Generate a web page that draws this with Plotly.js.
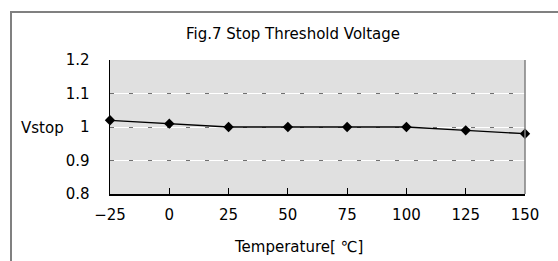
<!DOCTYPE html>
<html><head><meta charset="utf-8">
<script src="https://cdn.plot.ly/plotly-3.0.1.min.js"></script>
<style>html,body{margin:0;padding:0;background:#fff;}</style>
</head><body>
<div id="chart" style="width:558px;height:261px;"></div>
<script>
const temperatures = [-25, 0, 25, 50, 75, 100, 125, 150];
const vstop = [1.02, 1.01, 1.0, 1.0, 1.0, 1.0, 0.99, 0.98];
const xTickVals = [-25, 0, 25, 50, 75, 100, 125, 150];
const xTickText = ['\u221225', '0', '25', '50', '75', '100', '125', '150'];
const yTickVals = [0.8, 0.9, 1.0, 1.1, 1.2];
const yTickText = ['0.8', '0.9', '1', '1.1', '1.2'];
const titleText = 'Fig.7 Stop Threshold Voltage';
const xTitle = 'Temperature[ \u2103]';
const yTitle = 'Vstop';

const font = 'DejaVu Sans, sans-serif';
const L = 110, R = 33, T = 60, B = 67, W = 558, H = 261;
const pw = W - L - R, ph = H - T - B;
const px = v => (v - L) / pw;
const py = v => 1 - (v - T) / ph;

const traces = [
  {x: temperatures, y: vstop, type: 'scatter', mode: 'lines+markers',
   line: {color: '#000', width: 1.3},
   marker: {symbol: 'diamond', size: 8, color: '#000'},
   hoverinfo: 'skip', cliponaxis: false},
  {x: temperatures, y: vstop, type: 'scatter', mode: 'lines', yaxis: 'y2',
   opacity: 0, hoverinfo: 'skip', showlegend: false}
];

const layout = {
  width: W, height: H,
  margin: {l: L, r: R, t: T, b: B, pad: 0},
  paper_bgcolor: '#fff', plot_bgcolor: '#e0e0e0',
  showlegend: false,
  font: {family: font, size: 15, color: '#000'},
  title: {text: titleText, font: {family: font, size: 15, color: '#000'},
          x: px(293), xref: 'paper', xanchor: 'center', y: 1 - 34 / H, yanchor: 'middle'},
  xaxis: {range: [-25, 150], tickvals: xTickVals, ticktext: xTickText,
          ticks: 'inside', ticklen: 6, tickcolor: '#000', tickwidth: 1,
          showline: true, linecolor: '#000', linewidth: 1.5,
          showgrid: false, zeroline: false, ticklabelstandoff: 6,
          tickfont: {family: font, size: 15, color: '#000'}},
  yaxis: {range: [0.8, 1.2], tickvals: yTickVals, ticktext: yTickText,
          ticks: '', showline: true, linecolor: '#000', linewidth: 1.5,
          showgrid: true, gridcolor: '#ffffff', gridwidth: 1, zeroline: false,
          ticklabelstandoff: 16,
          tickfont: {family: font, size: 15, color: '#000'}},
  yaxis2: {range: [0.8, 1.2], overlaying: 'y', tickvals: yTickVals,
           showticklabels: false, ticks: '', showline: false, zeroline: false,
           showgrid: true, gridcolor: '#707070', gridwidth: 1, griddash: '4px,15px'},
  shapes: [
    {type: 'rect', xref: 'paper', yref: 'paper', x0: px(11), x1: px(600), y0: py(300), y1: py(12),
     line: {color: '#808080', width: 2}, fillcolor: 'rgba(0,0,0,0)', layer: 'below'},
    {type: 'line', xref: 'paper', yref: 'paper', x0: 1, x1: 1, y0: 0, y1: 1,
     line: {color: '#808080', width: 1.5}}
  ],
  annotations: [
    {text: yTitle, xref: 'paper', yref: 'paper', x: px(19), y: py(128), xanchor: 'left', yanchor: 'middle',
     showarrow: false, font: {family: font, size: 15, color: '#000'}},
    {text: xTitle, xref: 'paper', yref: 'paper', x: px(298), y: py(247), xanchor: 'center', yanchor: 'middle',
     showarrow: false, font: {family: font, size: 15, color: '#000'}}
  ]
};

Plotly.newPlot('chart', traces, layout, {displayModeBar: false, staticPlot: true});
</script>
</body></html>
